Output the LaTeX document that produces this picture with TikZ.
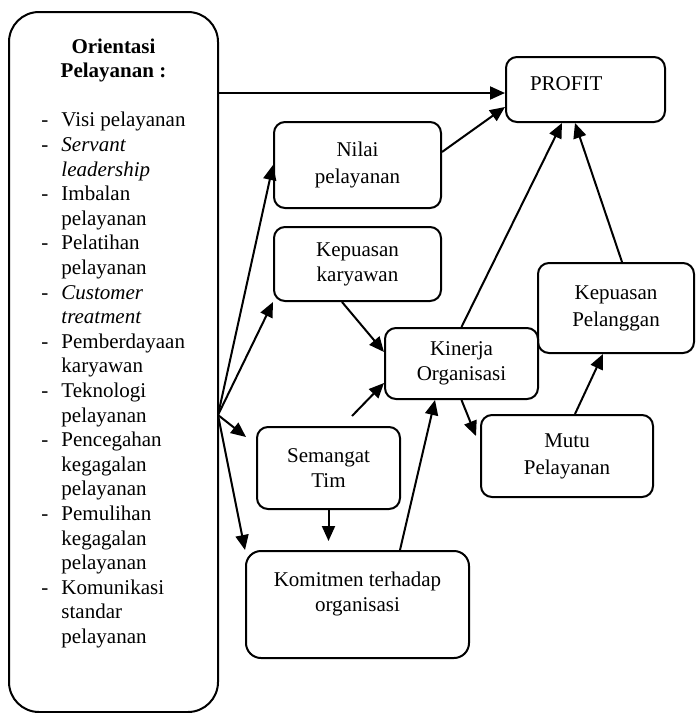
\documentclass[tikz,border=0pt]{standalone}
\usepackage{fontspec}
\setmainfont{Liberation Serif}
\usetikzlibrary{arrows.meta}

\begin{document}
\begin{tikzpicture}[x=1pt,y=-1pt,line width=2pt,font=\fontsize{21}{25}\selectfont]

      \useasboundingbox (0,0) rectangle (696,713);

      \begin{scope}[every node/.style={draw,rounded corners=11pt,align=center,inner sep=0pt}]
        \node[minimum width=209,minimum height=700,rounded corners=30pt] (orient) at (113.5,362)
          {\parbox[c][700pt][t]{150pt}{\fontsize{21}{24.6}\selectfont\vspace*{23.8pt}\centering
            \begin{tabular}{@{}p{20pt}@{}l@{}}
              \multicolumn{2}{c}{\textbf{Orientasi}}\\
              \multicolumn{2}{c}{\textbf{Pelayanan :}}\\[24.6pt]
              - & Visi pelayanan\\
              - & \textit{Servant}\\
                & \textit{leadership}\\
              - & Imbalan\\
                & pelayanan\\
              - & Pelatihan\\
                & pelayanan\\
              - & \textit{Customer}\\
                & \textit{treatment}\\
              - & Pemberdayaan\\
                & karyawan\\
              - & Teknologi\\
                & pelayanan\\
              - & Pencegahan\\
                & kegagalan\\
                & pelayanan\\
              - & Pemulihan\\
                & kegagalan\\
                & pelayanan\\
              - & Komunikasi\\
                & standar\\
                & pelayanan
            \end{tabular}}};
        \node[minimum width=159,minimum height=65,inner xsep=24pt,text width=111pt,align=left,text depth=11pt] (profit) at (585.5,89.5) {PROFIT};
        \node[minimum width=167,minimum height=86] (nilai) at (357.5,165) {Nilai\\[2pt]pelayanan};
        \node[minimum width=167,minimum height=74] (kepkar) at (357.5,264) {Kepuasan\\karyawan};
        \node[minimum width=156,minimum height=90] (keppel) at (616,308) {Kepuasan\\[2pt]Pelanggan};
        \node[minimum width=153,minimum height=71] (kinerja) at (461.5,363.5) {Kinerja\\Organisasi};
        \node[minimum width=143,minimum height=82] (semangat) at (328.5,468) {Semangat\\Tim};
        \node[minimum width=172,minimum height=82] (mutu) at (567,456) {Mutu\\[2pt]Pelayanan};
        \node[minimum width=223,minimum height=107,rounded corners=15pt,text depth=25pt] (komitmen) at (357.5,604.5) {Komitmen terhadap\\organisasi};
      \end{scope}

      \coordinate (top) at (218,93);
      \coordinate (fan) at (218,415);

      \begin{scope}[every edge/.style={draw,-{Triangle[length=15pt,width=13pt]}}]
        \path (top) edge (top -| profit.west);
        \path (fan) edge (nilai.west);
        \path (fan) edge (kepkar.south west);
        \path (fan) edge ([xshift=-10pt,yshift=-11pt]semangat.north west);
        \path (fan) edge (komitmen.north west);
        \path ([yshift=13pt]nilai.east) edge ([yshift=-17.5pt]profit.west);
        \path (kinerja.north) edge ([xshift=-23.5pt]profit.south);
        \path ([xshift=6pt]keppel.north) edge ([xshift=-10.5pt]profit.south);
        \path ([xshift=-15.5pt]kepkar.south) edge ([yshift=11.5pt]kinerja.west);
        \path ([xshift=23.5pt,yshift=10pt]semangat.north) edge ([yshift=-19.5pt]kinerja.west);
        \path (kinerja.south) edge ([xshift=-4pt,yshift=-22pt]mutu.north west);
        \path ([xshift=8pt]mutu.north) edge ([xshift=-13pt]keppel.south);
        \path (semangat.south) edge[shorten >=9pt] (semangat.south |- komitmen.north);
        \path ([xshift=42.5pt]komitmen.north) edge ([xshift=-26.5pt]kinerja.south);
      \end{scope}

    \end{tikzpicture}
\end{document}
